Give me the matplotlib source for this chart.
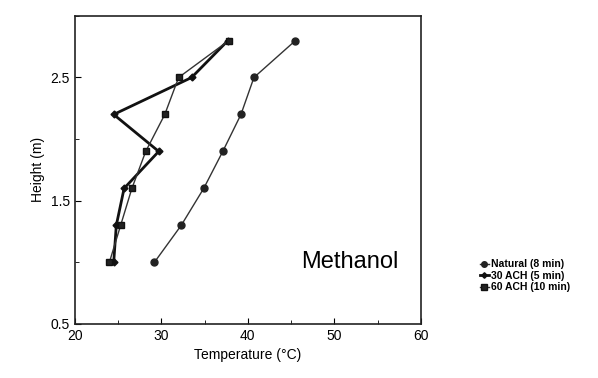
import matplotlib.pyplot as plt
from matplotlib.ticker import MultipleLocator

plt.rcParams["font.family"] = ["Liberation Sans", "DejaVu Sans"]

height = [1.0, 1.3, 1.6, 1.9, 2.2, 2.5, 2.8]
natural = [29.2, 32.3, 34.9, 37.1, 39.2, 40.7, 45.5]
ach30 = [24.5, 24.8, 25.7, 29.7, 24.5, 33.5, 37.7]
ach60 = [24.0, 25.3, 26.6, 28.2, 30.4, 32.0, 37.8]

labels = ["Natural (8 min)", "30 ACH (5 min)", "60 ACH (10 min)"]

fig = plt.figure(figsize=(5.98, 3.78), dpi=100)
ax = fig.add_axes([0.125, 0.143, 0.579, 0.815])

ax.plot(natural, height, color="#333333", lw=1.0, marker="o", ms=5,
        mfc="#222222", mec="#222222", label=labels[0])
ax.plot(ach30, height, color="#111111", lw=2.0, marker="D", ms=3.5,
        mfc="#111111", mec="#111111", label=labels[1])
ax.plot(ach60, height, color="#333333", lw=1.0, marker="s", ms=5,
        mfc="#222222", mec="#111111", label=labels[2])

ax.set_xlim(20, 60)
ax.set_ylim(0.5, 3.0)
ax.xaxis.set_major_locator(MultipleLocator(10))
ax.xaxis.set_minor_locator(MultipleLocator(5))
ax.set_yticks([0.5, 1.5, 2.5])
ax.yaxis.set_minor_locator(MultipleLocator(0.5))
ax.tick_params(which="both", direction="in", labelsize=10)
ax.tick_params(which="major", length=4)
ax.tick_params(which="minor", length=3)
for s in ax.spines.values():
    s.set_linewidth(1.2)
    s.set_color("#222222")

ax.set_xlabel("Temperature (\u00b0C)", fontsize=10)
ax.set_ylabel("Height (m)", fontsize=10)

ax.text(0.795, 0.20, "Methanol", transform=ax.transAxes, fontsize=17,
        ha="center", va="center")

fig.legend(loc="upper left", bbox_to_anchor=(0.795, 0.325), frameon=False,
           handlelength=0.9, handletextpad=0.2, markerscale=0.8,
           labelspacing=0.15, borderaxespad=0, prop={"weight": "bold", "size": 7.5})

fig.savefig("out.png", dpi=100)
